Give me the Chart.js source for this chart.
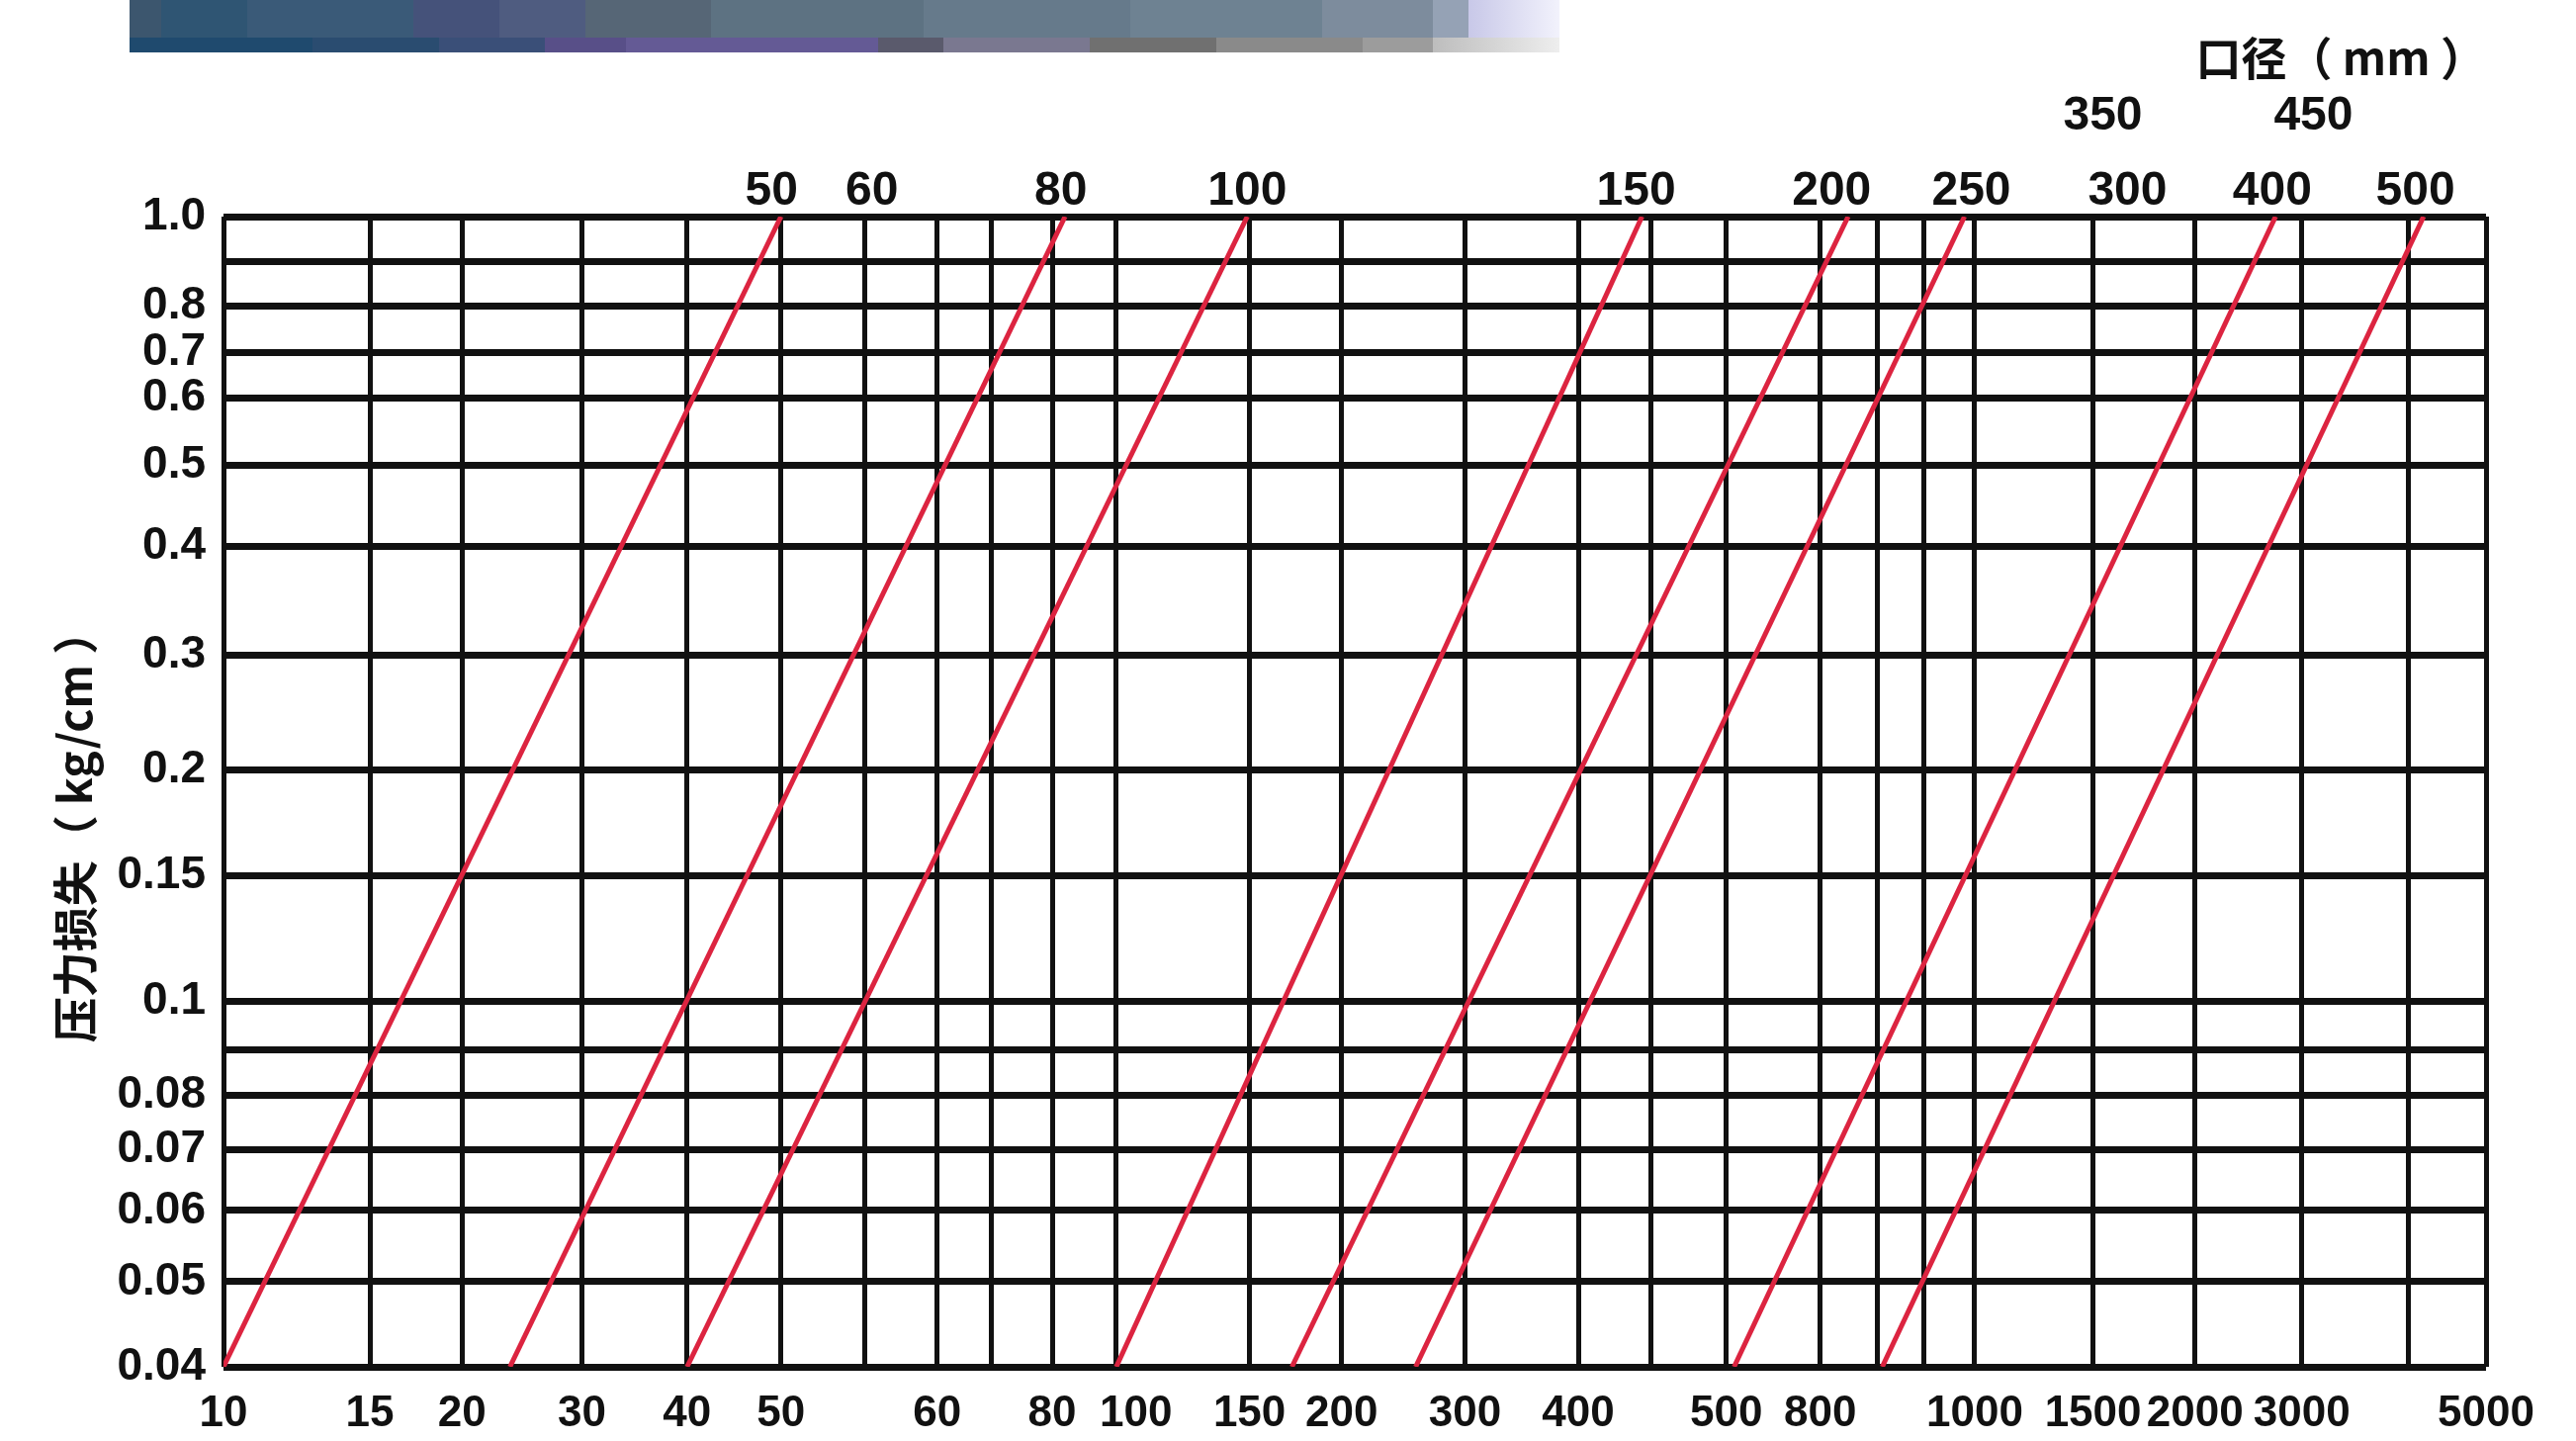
<!DOCTYPE html>
<html>
<head>
<meta charset="utf-8">
<title>压力损失</title>
<script src="https://cdn.jsdelivr.net/npm/chart.js@4.4.1/dist/chart.umd.min.js"></script>
<style>
  html, body { margin: 0; padding: 0; background: #fff; }
  #wrap { position: relative; width: 2605px; height: 1457px; overflow: hidden; }
  #chart { position: absolute; left: 0; top: 0; }
  .band { position: absolute; left: 131px; width: 1446px; }
  #bandTop {
    top: 0; height: 38px;
    background: linear-gradient(to right, #3c566e 0px, #3c566e 32px, #2f5573 32px, #2f5573 119px, #3a5a78 119px, #3a5a78 287px,
      #45527a 287px, #45527a 374px, #4f5c80 374px, #4f5c80 461px, #566676 461px, #566676 588px, #5d7282 588px, #5d7282 803px,
      #667a8b 803px, #667a8b 1012px, #6e8292 1012px, #6e8292 1206px, #7d8c9d 1206px, #7d8c9d 1318px, #95a2b5 1318px,
      #95a2b5 1354px, #c8c8e8 1354px, #f2f2fc 1446px);
  }
  #bandBottom {
    top: 38px; height: 15px;
    background: linear-gradient(to right, #1f4a6e 0px, #1f4a6e 185px, #2a4c70 185px, #2a4c70 313px, #3a4f78 313px, #3a4f78 420px,
      #584f88 420px, #584f88 502px, #645a95 502px, #645a95 757px, #5a5a6c 757px, #5a5a6c 823px, #7a7890 823px, #7a7890 971px,
      #707070 971px, #707070 1099px, #8a8a8a 1099px, #8a8a8a 1247px, #9c9c9c 1247px, #9c9c9c 1318px, #bdbdbd 1318px, #eeeeee 1446px);
  }
</style>
</head>
<body>
<div id="wrap">
  <canvas id="chart" width="2605" height="1457"></canvas>
  <div class="band" id="bandTop"></div>
  <div class="band" id="bandBottom"></div>
</div>
<script>
// flow along the bottom edge (printed labels) and unlabeled grid lines
const flowTicks = [10, 15, 20, 30, 40, 50, 60, 80, 100, 150, 200, 300, 400, 500, 800, 1000, 1500, 2000, 3000, 5000];
const flowExtraLines = [55, 70, 95, 450, 880, 940, 4000];

// pressure loss on the left edge
const lossTicks = [0.04, 0.05, 0.06, 0.07, 0.08, 0.1, 0.15, 0.2, 0.3, 0.4, 0.5, 0.6, 0.7, 0.8, 1.0];
const lossExtraLines = [0.09, 0.9];

// one straight line per pipe size: flow where it starts on 0.04 and where it reaches 1.0
const diameters = [50, 80, 100, 150, 200, 250, 400, 500];
const flowAtLow = [10, 24, 40, 95, 173, 260, 525, 886];
const flowAtHigh = [50, 83, 149, 444, 839, 988, 2754, 4191];
const lossLow = 0.04;
const lossHigh = 1.0;

// diameter labels printed above the grid, two rows
const sizeLabels = ["50", "60", "80", "100", "150", "200", "250", "300", "400", "500"];
const sizeLabelFlow = [49, 55.5, 82, 149, 440, 816, 996, 1669, 2723, 4085];
const sizeLabels2 = ["350", "450"];
const sizeLabel2Flow = [1548, 3108];

// the printed axes are hand drawn and not evenly spaced:
// [value, share of plot width/height] for each line or label
const axisStops = {
    flow: [[10, 0], [15, 0.0647], [20, 0.1054], [30, 0.1584], [40, 0.2049], [50, 0.2464], [55, 0.2834],
        [60, 0.3154], [70, 0.3394], [80, 0.3663], [95, 0.3946], [100, 0.4033], [150, 0.4535], [200, 0.4942],
        [300, 0.5487], [400, 0.5988], [450, 0.6308], [500, 0.6642], [800, 0.7057], [880, 0.7311], [940, 0.7515],
        [1000, 0.774], [1500, 0.8263], [2000, 0.8714], [3000, 0.9186], [4000, 0.9659], [5000, 1]],
    loss: [[0.04, 0], [0.05, 0.074], [0.06, 0.136], [0.07, 0.189], [0.08, 0.236], [0.09, 0.276], [0.1, 0.318],
        [0.15, 0.427], [0.2, 0.519], [0.3, 0.619], [0.4, 0.713], [0.5, 0.784], [0.6, 0.842], [0.7, 0.882],
        [0.8, 0.922], [0.9, 0.961], [1.0, 1]],
};

class WarpScale extends Chart.LinearScale {
    share(v) {
        const s = axisStops[this.options.warp];
        if (v <= s[0][0]) return s[0][1];
        for (let i = 1; i < s.length; i++) {
            if (v <= s[i][0]) {
                const [v0, f0] = s[i - 1];
                const [v1, f1] = s[i];
                return f0 + (v - v0) / (v1 - v0) * (f1 - f0);
            }
        }
        return s[s.length - 1][1];
    }
    getPixelForValue(v) {
        const f = this.share(v);
        return this.isHorizontal() ? this.left + f * this.width : this.bottom - f * this.height;
    }
    getValueForPixel(px) {
        const f = this.isHorizontal() ? (px - this.left) / this.width : (this.bottom - px) / this.height;
        const s = axisStops[this.options.warp];
        for (let i = 1; i < s.length; i++) {
            if (f <= s[i][1]) {
                const [v0, f0] = s[i - 1];
                const [v1, f1] = s[i];
                return v0 + (f - f0) / (f1 - f0) * (v1 - v0);
            }
        }
        return s[s.length - 1][0];
    }
}
WarpScale.id = "warp";
WarpScale.defaults = {};
Chart.register(WarpScale);

const numFont = "'Liberation Sans', Arial, sans-serif";
const cjkFont = "'Noto Sans CJK SC', sans-serif";
const ink = "#111";

const datasets = diameters.map((d, i) => ({
    label: d + " mm",
    data: [{ x: flowAtLow[i], y: lossLow }, { x: flowAtHigh[i], y: lossHigh }],
    borderColor: "#dc2440",
    borderWidth: 5,
    pointRadius: 0,
    fill: false,
}));

const gridValues = (a, b) => a.concat(b).sort((p, q) => p - q).map((v) => ({ value: v }));

const topAxis = (values, labels, weight, height, padding) => ({
    type: "warp",
    warp: "flow",
    position: "top",
    min: 10,
    max: 5000,
    bounds: "data",
    weight: weight,
    afterBuildTicks: (s) => { s.ticks = values.map((v) => ({ value: v })); },
    afterFit: (s) => { s.height = height; },
    grid: { display: false },
    border: { display: false },
    ticks: {
        autoSkip: false,
        maxRotation: 0,
        minRotation: 0,
        padding: padding,
        color: ink,
        font: { family: numFont, size: 48, weight: "bold" },
        callback: (v, i) => labels[i],
    },
});

const x3 = topAxis(sizeLabel2Flow, sizeLabels2, 1, 150, -5);
x3.title = {
    display: true,
    text: "口径（ mm ）",
    align: "end",
    color: ink,
    padding: { top: 31, bottom: 0 },
    font: { family: cjkFont, size: 46, weight: "bold" },
};

new Chart(document.getElementById("chart"), {
    type: "line",
    data: { datasets: datasets },
    options: {
        responsive: false,
        animation: false,
        events: [],
        layout: { padding: { left: 0, right: 91, top: 0, bottom: 0 } },
        plugins: { legend: { display: false }, tooltip: { enabled: false } },
        scales: {
            x: {
                type: "warp",
                warp: "flow",
                position: "bottom",
                min: 10,
                max: 5000,
                bounds: "data",
                afterBuildTicks: (s) => { s.ticks = gridValues(flowTicks, flowExtraLines); },
                afterFit: (s) => { s.height = 75; },
                grid: {
                    color: ink,
                    lineWidth: (ctx) => (ctx.tick && ctx.tick.value === 100 ? 0 : 5),
                    drawTicks: false,
                },
                border: { display: false },
                ticks: {
                    autoSkip: false,
                    maxRotation: 0,
                    minRotation: 0,
                    padding: 21,
                    color: ink,
                    font: { family: numFont, size: 44, weight: "bold" },
                    callback: (v) => (flowTicks.includes(v) ? String(v) : ""),
                },
            },
            x2: topAxis(sizeLabelFlow, sizeLabels, 0, 69, -12),
            x3: x3,
            y: {
                type: "warp",
                warp: "loss",
                position: "left",
                min: 0.04,
                max: 1.0,
                bounds: "data",
                afterBuildTicks: (s) => { s.ticks = gridValues(lossTicks, lossExtraLines); },
                afterFit: (s) => { s.width = 226; },
                grid: { color: ink, lineWidth: 7, drawTicks: false },
                border: { display: false },
                ticks: {
                    autoSkip: false,
                    padding: 18,
                    color: ink,
                    font: { family: numFont, size: 46, weight: "bold" },
                    callback: (v) => (lossTicks.includes(v) ? (v === 1 ? "1.0" : String(v)) : ""),
                },
                title: {
                    display: true,
                    text: "压力损失（ kg/cm ）　　",
                    color: ink,
                    padding: { top: 48, bottom: 0 },
                    font: { family: cjkFont, size: 46, weight: "bold" },
                },
            },
        },
    },
});
</script>
</body>
</html>
